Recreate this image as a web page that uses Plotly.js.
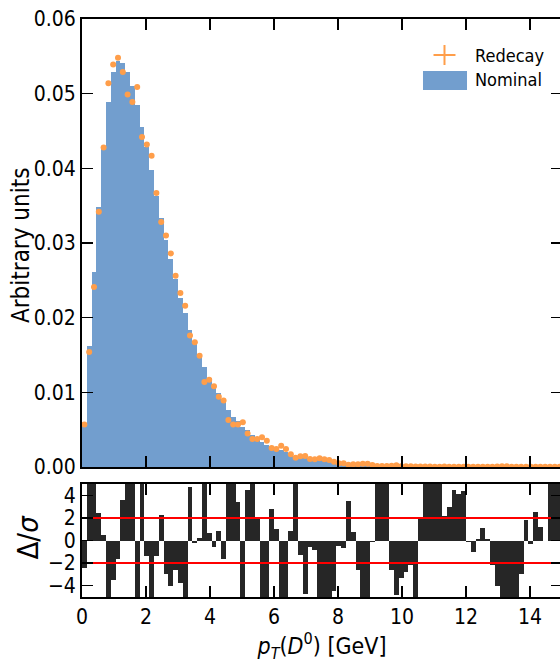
<!DOCTYPE html>
<html><head><meta charset="utf-8">
<script src="https://cdn.plot.ly/plotly-3.0.1.min.js"></script>
<style>html,body{margin:0;padding:0;overflow:hidden;background:#fff}#plot{width:564px;height:664px}</style>
</head><body><div id="plot"></div>
<script>
// Binning: 100 bins of 0.15 GeV from 0 to 15 GeV
const binLow = 0;
const binWidth = 0.15;

// Nominal histogram (arbitrary units)
const nominal = [
 0.0055,0.0162,0.0261,0.0348,0.0430,0.0489,0.0529,0.0544,0.0541,0.0529,
 0.0510,0.0485,0.0455,0.0429,0.0398,0.0363,0.0333,0.0304,0.0278,0.0252,
 0.0227,0.0206,0.0183,0.0166,0.0149,0.0134,0.0119,0.0107,0.0099,0.0088,
 0.0076,0.0067,0.0061,0.0054,0.0049,0.0043,0.0038,0.0034,0.0029,0.0026,
 0.0024,0.0023,0.00205,0.00173,0.00150,0.00135,0.00127,0.00105,0.00100,0.00095,
 0.00084,0.00076,0.00057,0.00048,0.00047,0.00038,0.00037,0.00030,0.00032,0.00032,
 0.00027,0.00020,0.00020,0.00020,0.00014,0.000135,0.000053,0.000066,0.000081,0.00004,
 0.00009,0.00011,0.00011,0.000095,0.000095,0.00008,0.00007,0.000065,0.000063,0.000065,
 0.00005,0.000042,0.00004,0.000048,0.00004,0.000032,0.000032,0.000025,0.000025,0.00002,
 0.000015,0.000022,0.00004,0.000028,0.000043,0.000036,0.00003,0.000045,0.00004,0.00004
];

// Redecay sample (arbitrary units)
const redecay = [
 0.0057,0.0154,0.0241,0.0342,0.0428,0.0514,0.0539,0.0548,0.0529,0.0499,
 0.0489,0.0509,0.0442,0.0432,0.0417,0.0367,0.0328,0.0310,0.0286,0.0256,
 0.0233,0.0216,0.0176,0.0167,0.0149,0.0114,0.0117,0.0108,0.0094,0.0089,
 0.0063,0.0057,0.0057,0.0060,0.0045,0.00375,0.00375,0.0040,0.0035,0.00255,
 0.0024,0.00285,0.0024,0.0017,0.00125,0.00145,0.00147,0.00107,0.00103,0.00116,
 0.00103,0.00094,0.00071,0.00049,0.00049,0.00031,0.00036,0.00036,0.00045,0.00045,
 0.00027,0.00013,0.00013,0.00013,0.00018,0.00022,0.00009,0.00010,0.00011,0.00008,
 0.00007,0.00006,0.00006,0.00005,0.00005,0.00006,0.00005,0.00004,0.00004,0.00004,
 0.00005,0.00005,0.00004,0.00004,0.00004,0.00005,0.00006,0.00010,0.00010,0.00005,
 0.00004,0.00004,0.00003,0.00003,0.00003,0.00003,0.00003,0.00002,0.00002,0.00002
];

// Pull Delta/sigma per bin (values beyond +-5 are clipped by the axis)
const pull = [
 -2.4, 6, 6, 2.4, 0.5, -6, -3.5, -1.6, 3.55, 6,
 6, -6, 6, -1.4, -6, -1.4, 2.3, -3.0, -4.0, -2.6,
 -3.8, -6, 4.7, -0.25, 0.25, 6, 0.7, -0.55, 0.8, -1.6,
 6, 6, 3.4, -6, 4.5, 6, 2.0, -6, -6, 2.75,
 1.0, -6, -6, 0.8, 6, -1.3, -4.7, -0.6, -0.8, -6,
 -6, -6, -4.5, -0.45, -0.65, 3.5, 0.75, -2.6, -6, -6,
 -0.1, 6, 6, 6, -2.6, -4.8, -3.3, -2.8, -2.2, -6,
 2.0, 6, 6, 6, 6, 2.2, 3.0, 4.5, 4.1, 4.4,
 -0.1, -1.0, 0.15, 1.1, 0.15, -2.2, -4.0, -6, -6, -6,
 -6, -3.0, 1.8, -0.3, 2.5, 1.2, -0.05, 6, 6, 6
];

const pullBand = [-2, 2];
const xTicks = [0, 2, 4, 6, 8, 10, 12, 14];
const yTicksTop = [0, 0.01, 0.02, 0.03, 0.04, 0.05, 0.06];
const pullTicks = [-4, -2, 0, 2, 4];
const legendLabels = ['Redecay', 'Nominal'];
const yTitleTop = 'Arbitrary units';
const yTitlePull = 'Δ/<i>σ</i>';
const xTitle = '<i>p</i><sub><i>T</i></sub>(<i>D</i><sup>0</sup>) [GeV]';

const centers = nominal.map((_, i) => binLow + binWidth * (i + 0.5));
const xMax = binLow + binWidth * nominal.length;

const FONT = '"Liberation Sans Narrow", "DejaVu Sans Condensed", "Arial Narrow", sans-serif';
const BLUE = 'rgb(114,158,206)';
const ORANGE = 'rgb(255,158,74)';

const traces = [
  { type: 'bar', x: centers, y: nominal, width: binWidth, xaxis: 'x', yaxis: 'y',
    marker: { color: BLUE, line: { width: 0 } }, showlegend: false, hoverinfo: 'skip' },
  { type: 'scatter', mode: 'markers', x: centers, y: redecay, xaxis: 'x', yaxis: 'y',
    marker: { color: ORANGE, size: 6 },
    error_x: { type: 'constant', value: binWidth / 2, color: ORANGE, thickness: 2, width: 0 },
    showlegend: false, hoverinfo: 'skip', cliponaxis: true },
  { type: 'bar', x: centers, y: pull, width: binWidth, xaxis: 'x2', yaxis: 'y2',
    marker: { color: 'rgb(38,38,38)', line: { width: 0 } }, showlegend: false, hoverinfo: 'skip' }
];
pullBand.forEach(v => traces.push({
  type: 'scatter', mode: 'lines', x: [binLow, xMax], y: [v, v], xaxis: 'x2', yaxis: 'y2',
  line: { color: 'rgb(255,0,0)', width: 2 }, showlegend: false, hoverinfo: 'skip'
}));

const axCommon = {
  showline: true, linecolor: 'black', linewidth: 2, mirror: 'ticks',
  ticks: 'inside', ticklen: 11, tickwidth: 1.5, tickcolor: 'black',
  showgrid: false, zeroline: false, tickfont: { family: FONT, size: 21, color: 'black' }
};

// legend geometry in paper coords
const lx = 0.7552, ly1 = 0.9377, ly2 = 0.8945;
const layout = {
  width: 564, height: 664,
  margin: { l: 82, r: 2, t: 19, b: 67 },
  paper_bgcolor: 'white', plot_bgcolor: 'white',
  bargap: 0, showlegend: false,
  font: { family: FONT, size: 21, color: 'black' },
  xaxis: Object.assign({}, axCommon, { domain: [0, 1], range: [binLow, xMax], anchor: 'y',
    tickvals: xTicks, showticklabels: false }),
  yaxis: Object.assign({}, axCommon, { domain: [0.2249, 1], range: [0, 0.06], anchor: 'x',
    tickvals: yTicksTop, tickformat: '.2f' }),
  xaxis2: Object.assign({}, axCommon, { domain: [0, 1], range: [binLow, xMax], anchor: 'y2',
    tickvals: xTicks,
    title: { text: xTitle, font: { family: FONT, size: 23 }, standoff: 8 } }),
  yaxis2: Object.assign({}, axCommon, { domain: [0, 0.1955], range: [-5, 5], anchor: 'x2',
    tickvals: pullTicks }),
  shapes: [
    { type: 'line', xref: 'paper', yref: 'paper', x0: lx - 0.0229, x1: lx + 0.0229, y0: ly1, y1: ly1,
      line: { color: ORANGE, width: 2 } },
    { type: 'line', xref: 'paper', yref: 'paper', x0: lx, x1: lx, y0: ly1 - 0.0173, y1: ly1 + 0.0173,
      line: { color: ORANGE, width: 2 } },
    { type: 'rect', xref: 'paper', yref: 'paper', x0: 0.7104, x1: 0.8021, y0: 0.8772, y1: 0.9100,
      fillcolor: BLUE, line: { width: 0 } }
  ],
  annotations: [
    { xref: 'paper', yref: 'paper', x: 0.8146, y: ly1, xanchor: 'left', yanchor: 'middle',
      text: legendLabels[0], showarrow: false, font: { family: FONT, size: 18, color: 'black' } },
    { xref: 'paper', yref: 'paper', x: 0.8146, y: ly2, xanchor: 'left', yanchor: 'middle',
      text: legendLabels[1], showarrow: false, font: { family: FONT, size: 18, color: 'black' } },
    { xref: 'paper', yref: 'paper', x: -0.127, y: 0.609, xanchor: 'center', yanchor: 'middle',
      textangle: -90, text: yTitleTop, showarrow: false, font: { family: FONT, size: 24, color: 'black' } },
    { xref: 'paper', yref: 'paper', x: -0.1115, y: 0.1038, xanchor: 'center', yanchor: 'middle',
      textangle: -90, text: yTitlePull, showarrow: false, font: { family: FONT, size: 29, color: 'black' } }
  ]
};

Plotly.newPlot('plot', traces, layout, { displayModeBar: false, staticPlot: true });
</script>
</body></html>
